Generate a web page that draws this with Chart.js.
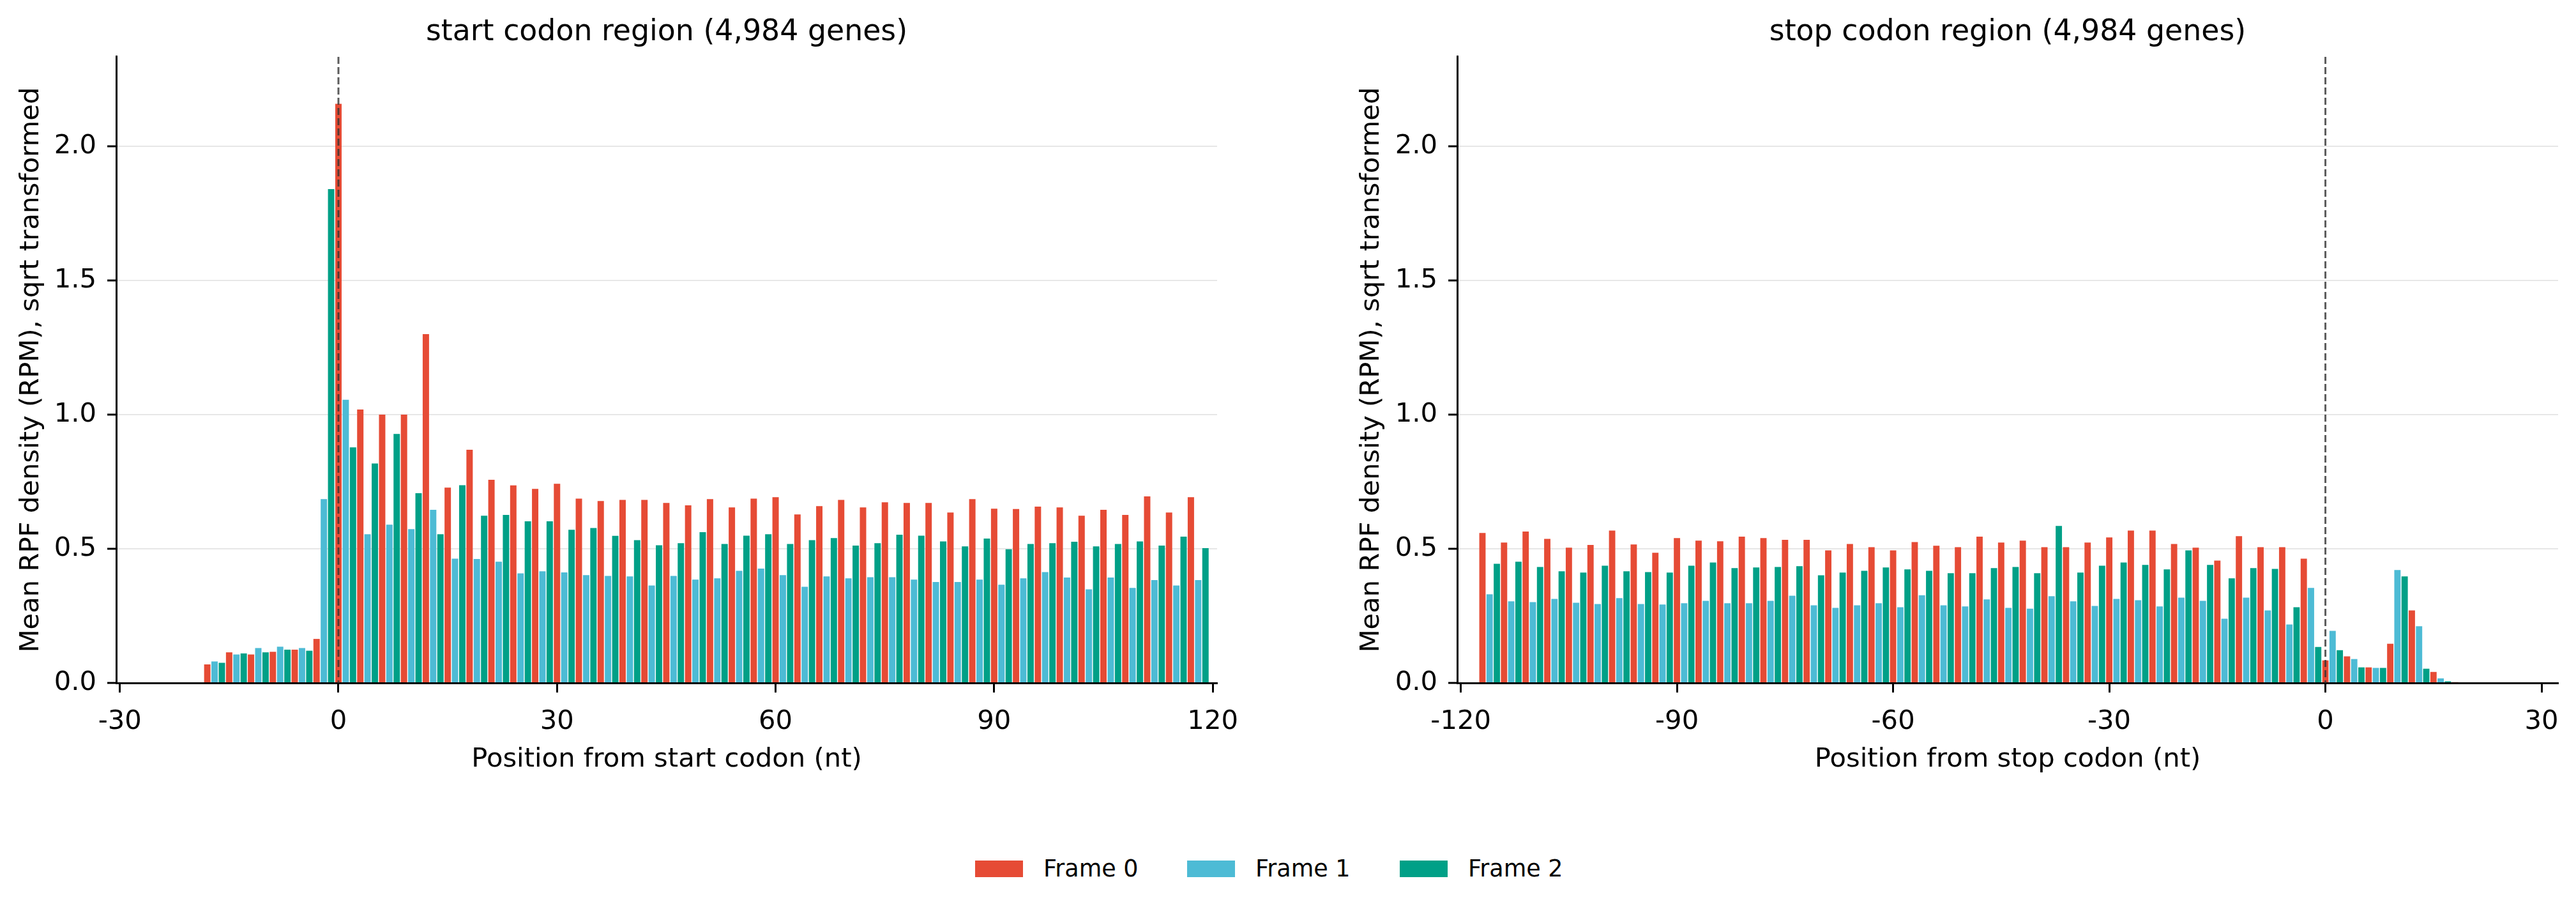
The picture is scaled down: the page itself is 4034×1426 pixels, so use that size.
<!DOCTYPE html>
<html>
<head>
<meta charset="utf-8">
<script src="https://cdn.jsdelivr.net/npm/chart.js@4.4.1/dist/chart.umd.min.js"></script>
<style>
  html, body { margin: 0; padding: 0; background: #fff; }
  body { width: 4034px; height: 1426px; position: relative; overflow: hidden; font-family: "DejaVu Sans", sans-serif; }
  canvas { position: absolute; top: 0; }
  #startChart { left: 0; }
  #stopChart { left: 2017px; }
  .leg { position: absolute; top: 1342px; height: 37px; font-size: 36.5px; line-height: 36.5px; white-space: nowrap; color: #000; }
  .leg i { position: absolute; left: 0; top: 5px; width: 75px; height: 26px; }
  .leg span { position: absolute; left: 107px; top: 0; }
</style>
</head>
<body>
<canvas id="startChart" width="2017" height="1290"></canvas>
<canvas id="stopChart" width="2017" height="1290"></canvas>
<div id="legend"></div>
<script>
// frames and colours
var frameNames = ['Frame 0', 'Frame 1', 'Frame 2']
var frameColors = ['#E64B35', '#4DBBD5', '#00A087']

// start codon region, positions -18 .. 119
var startFirstPos = -18
var startValues = [
    0.069, 0.080, 0.075, 0.114, 0.106, 0.110, 0.106, 0.130, 0.114, 0.116,   // -18..-9
    0.135, 0.124, 0.124, 0.130, 0.120, 0.164, 0.685, 1.840,                 // -8..-1
    2.158, 1.055, 0.878, 1.019, 0.554, 0.818, 1.000, 0.590, 0.928, 1.000,   // 0..9
    0.573, 0.707, 1.300, 0.645, 0.554, 0.728, 0.463, 0.737, 0.869, 0.462,   // 10..19
    0.623, 0.757, 0.452, 0.626, 0.736, 0.408, 0.602, 0.723, 0.416, 0.602,   // 20..29
    0.742, 0.412, 0.571, 0.687, 0.402, 0.577, 0.678, 0.399, 0.548, 0.682,   // 30..39
    0.397, 0.532, 0.682, 0.363, 0.513, 0.671, 0.399, 0.521, 0.662, 0.385,   // 40..49
    0.562, 0.685, 0.390, 0.518, 0.654, 0.418, 0.549, 0.687, 0.426, 0.554,   // 50..59
    0.692, 0.402, 0.518, 0.628, 0.358, 0.532, 0.659, 0.397, 0.540, 0.682,   // 60..69
    0.390, 0.512, 0.654, 0.394, 0.521, 0.673, 0.394, 0.552, 0.671, 0.385,   // 70..79
    0.549, 0.671, 0.376, 0.527, 0.635, 0.376, 0.509, 0.685, 0.385, 0.538,   // 80..89
    0.649, 0.366, 0.498, 0.648, 0.390, 0.518, 0.657, 0.413, 0.521, 0.654,   // 90..99
    0.393, 0.526, 0.623, 0.349, 0.509, 0.645, 0.393, 0.518, 0.626, 0.354,   // 100..109
    0.527, 0.695, 0.383, 0.512, 0.635, 0.363, 0.545, 0.692, 0.383, 0.502    // 110..119
]

// stop codon region, positions -117 .. 18
var stopFirstPos = -117
var stopValues = [
    0.559, 0.330, 0.444, 0.523, 0.304, 0.452, 0.564, 0.301, 0.432, 0.537,   // -117..-108
    0.313, 0.416, 0.504, 0.299, 0.411, 0.514, 0.294, 0.437, 0.568, 0.316,   // -107..-98
    0.416, 0.516, 0.294, 0.413, 0.485, 0.292, 0.411, 0.540, 0.297, 0.437,   // -97..-88
    0.530, 0.306, 0.449, 0.528, 0.297, 0.428, 0.545, 0.297, 0.430, 0.540,   // -87..-78
    0.306, 0.432, 0.533, 0.325, 0.435, 0.533, 0.289, 0.401, 0.494, 0.280,   // -77..-68
    0.411, 0.518, 0.289, 0.418, 0.506, 0.297, 0.430, 0.494, 0.282, 0.423,   // -67..-58
    0.525, 0.327, 0.418, 0.511, 0.289, 0.409, 0.506, 0.285, 0.409, 0.545,   // -57..-48
    0.311, 0.428, 0.523, 0.280, 0.432, 0.530, 0.277, 0.409, 0.506, 0.323,   // -47..-38
    0.585, 0.506, 0.304, 0.411, 0.523, 0.287, 0.437, 0.542, 0.313, 0.449,   // -37..-28
    0.568, 0.308, 0.440, 0.568, 0.285, 0.423, 0.518, 0.318, 0.494, 0.504,   // -27..-18
    0.306, 0.440, 0.456, 0.239, 0.390, 0.547, 0.318, 0.428, 0.506, 0.270,   // -17..-8
    0.425, 0.506, 0.218, 0.282, 0.463, 0.354, 0.134,                        // -7..-1
    0.084, 0.194, 0.122, 0.099, 0.089, 0.058, 0.058, 0.056, 0.056, 0.146,   // 0..9
    0.421, 0.397, 0.270, 0.211, 0.053, 0.041, 0.017, 0.006, 0.003           // 10..18
]

// tick labels
var startTicks = [-30, 0, 30, 60, 90, 120]
var stopTicks = [-120, -90, -60, -30, 0, 30]
var yTicks = [0, 0.5, 1.0, 1.5, 2.0]

Chart.defaults.font.family = '"DejaVu Sans", sans-serif'
Chart.defaults.color = '#000'

// split one region into the three reading frames
function frameData(firstPos, values, f) {
    var pts = []
    values.forEach((v, i) => {
        var pos = firstPos + i
        if (((pos % 3) + 3) % 3 == f) pts.push({ x: pos, y: v })
    })
    return pts
}

// dashed line at position 0
var zeroLine = {
    id: 'zeroLine',
    afterDraw(chart) {
        var ctx = chart.ctx
        var area = chart.chartArea
        var x = chart.scales.x.getPixelForValue(0)
        ctx.save()
        ctx.strokeStyle = 'rgba(51,51,51,0.8)'
        ctx.lineWidth = 3
        ctx.setLineDash([11, 5])
        ctx.beginPath()
        ctx.moveTo(x, area.top)
        ctx.lineTo(x, area.bottom)
        ctx.stroke()
        ctx.restore()
    }
}

function makeChart(id, firstPos, values, xTicks, xMin, xMax, title, xTitle, yWidth, yTitlePad, rightPad) {
    var datasets = frameNames.map((name, f) => ({
        label: name,
        data: frameData(firstPos, values, f),
        backgroundColor: frameColors[f],
        borderWidth: 0,
        grouped: false,
        categoryPercentage: 1,
        barPercentage: 0.875
    }))

    return new Chart(document.getElementById(id), {
        type: 'bar',
        data: { datasets: datasets },
        plugins: [zeroLine],
        options: {
            responsive: false,
            animation: false,
            devicePixelRatio: 1,
            layout: { padding: { left: 0, right: rightPad, top: 0, bottom: 0 } },
            plugins: {
                legend: { display: false },
                tooltip: { enabled: false },
                title: {
                    display: true,
                    text: title,
                    color: '#000',
                    fullSize: false,
                    font: { size: 45.8, weight: 'normal' },
                    padding: { top: 24, bottom: 10 }
                }
            },
            scales: {
                x: {
                    type: 'linear',
                    min: xMin,
                    max: xMax,
                    offset: false,
                    z: 1,
                    afterBuildTicks: s => { s.ticks = xTicks.map(v => ({ value: v })) },
                    afterFit: s => { s.height = 221 },
                    ticks: {
                        callback: v => String(v),
                        color: '#000',
                        font: { size: 41.7 },
                        padding: 21.5,
                        maxRotation: 0,
                        autoSkip: false
                    },
                    grid: {
                        drawOnChartArea: false,
                        drawTicks: true,
                        tickLength: 15,
                        tickWidth: 3,
                        tickColor: '#000',
                        offset: false
                    },
                    border: { display: true, color: '#000', width: 3 },
                    title: {
                        display: true,
                        text: xTitle,
                        color: '#000',
                        font: { size: 41.7 },
                        padding: { top: 0, bottom: 75.5 }
                    }
                },
                y: {
                    min: 0,
                    max: 2.333,
                    z: 1,
                    afterBuildTicks: s => { s.ticks = yTicks.map(v => ({ value: v })) },
                    afterFit: s => { s.width = yWidth },
                    ticks: {
                        callback: v => v.toFixed(1),
                        color: '#000',
                        font: { size: 41.7 },
                        padding: 17
                    },
                    grid: {
                        color: 'rgba(176,176,176,0.3)',
                        lineWidth: 2,
                        tickLength: 14,
                        tickWidth: 3,
                        tickColor: '#000'
                    },
                    border: { display: true, color: '#000', width: 3 },
                    title: {
                        display: true,
                        text: 'Mean RPF density (RPM), sqrt transformed',
                        color: '#000',
                        font: { size: 41.7 },
                        padding: { top: yTitlePad, bottom: 0 }
                    }
                }
            }
        }
    })
}

makeChart('startChart', startFirstPos, startValues, startTicks, -30.5, 120.6,
    'start codon region (4,984 genes)', 'Position from start codon (nt)', 182, 24, 111)
makeChart('stopChart', stopFirstPos, stopValues, stopTicks, -120.5, 32.3,
    'stop codon region (4,984 genes)', 'Position from stop codon (nt)', 265, 106.5, 28)

// shared legend under both panels
var legendLeft = [1527, 1859, 2192]
var legend = document.getElementById('legend')
frameNames.forEach((name, f) => {
    var item = document.createElement('div')
    item.className = 'leg'
    item.style.left = legendLeft[f] + 'px'
    item.innerHTML = '<i style="background:' + frameColors[f] + '"></i><span>' + name + '</span>'
    legend.appendChild(item)
})
</script>
</body>
</html>
